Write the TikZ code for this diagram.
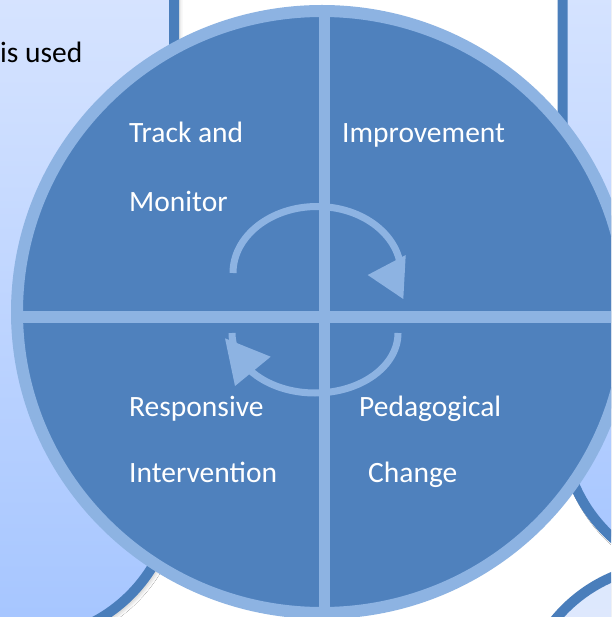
\documentclass[tikz,border=0pt]{standalone}
\usepackage{fontspec}
\setmainfont{Carlito}
\usetikzlibrary{shapes.geometric,shadows.blur}

\definecolor{wheelDark}{RGB}{79,129,189}
\definecolor{wheelLight}{RGB}{141,179,226}
\definecolor{panelEdge}{RGB}{74,126,187}
\definecolor{panelTop}{RGB}{226,235,255}
\definecolor{panelBottom}{RGB}{165,197,255}
\definecolor{panelPale}{RGB}{221,232,253}

\begin{document}
\begin{tikzpicture}[x=1pt, y=-1pt]
    \tikzstyle{panel} = [rectangle, draw=panelEdge, line width=10pt, rounded corners=150pt, inner sep=0pt, top color=panelTop, bottom color=panelBottom, blur shadow={shadow xshift=3pt, shadow yshift=-3pt, shadow blur radius=6pt, shadow opacity=40}]
    \tikzstyle{quad} = [text=white, font=\fontsize{29.5}{35}\selectfont, inner sep=0pt, anchor=base west]
    \tikzstyle{spoke} = [draw=wheelLight, line width=11.5pt]
    \tikzstyle{loop} = [draw=wheelLight, line width=7pt]
    \tikzstyle{head} = [fill=wheelLight]

    \useasboundingbox (0,0) rectangle (611,617);
    \clip (0,0) rectangle (611,617);
    \fill[white] (0,0) rectangle (611,617);

    % panels behind the wheel
    \node (leftPanel) [panel, minimum width=474pt, minimum height=799pt] at (-63,239.5) {};
    \node (rightPanel) [panel, minimum width=337.5pt, minimum height=736pt] at (731.25,208) {};
    \node (lowerPanel) [panel, top color=panelPale, bottom color=panelTop, minimum width=479pt, minimum height=435pt] at (760.5,782.5) {};
    \node (isUsed) [font=\fontsize{29.5}{35}\selectfont, inner sep=0pt, anchor=base east] at (82.5,63) {is used};

    % wheel
    \node (wheel) [ellipse, draw=wheelLight, fill=wheelDark, line width=12pt, minimum width=610pt, minimum height=602pt, inner sep=0pt] at (322,312) {};
    \begin{scope}
        \clip (322,312) ellipse [x radius=306, y radius=302];
        \draw[spoke] (324.4,0) -- (324.4,640);
        \draw[spoke] (0,317) -- (640,317);
    \end{scope}

    % cycle arrows
    \draw[loop] (233,273) arc[start angle=180, end angle=360, x radius=84, y radius=66.5];
    \fill[head] (367.7,275) -- (405.7,255) -- (403.3,299) -- cycle;
    \draw[loop] (398,333) arc[start angle=0, end angle=180, x radius=83, y radius=60];
    \fill[head] (225,338.3) -- (270.7,356.7) -- (235,386) -- cycle;

    \node (track) [quad] at (129,142.5) {Track and};
    \node (monitor) [quad] at ([yshift=-69pt]track.base west) {Monitor};
    \node (improve) [quad] at (342,142.5) {Improvement};
    \node (respond) [quad] at (129,416.5) {Responsive};
    \node (intervene) [quad] at ([yshift=-66pt]respond.base west) {Intervention};
    \node (pedagogy) [quad] at (359,416.5) {Pedagogical};
    \node (change) [quad] at ([xshift=9pt, yshift=-66pt]pedagogy.base west) {Change};
\end{tikzpicture}
\end{document}
